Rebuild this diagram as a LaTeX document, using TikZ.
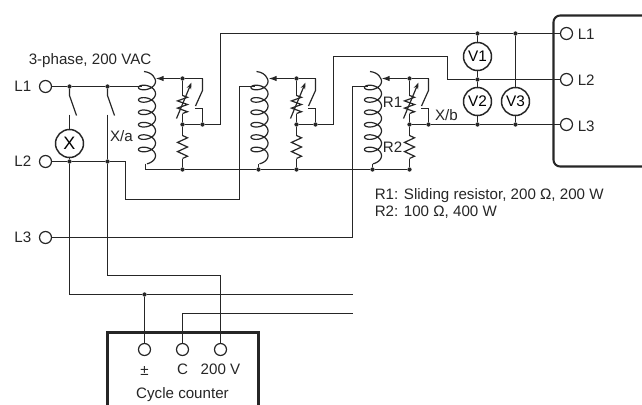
\documentclass[tikz,border=0pt]{standalone}
\usepackage{fontspec}
\setmainfont{Liberation Sans}
\usetikzlibrary{arrows.meta}
\definecolor{ink}{HTML}{262626}
\tikzset{
  x=0.75pt,y=-0.75pt,
  wire/.style={draw=ink,line width=0.9pt,line join=miter},
  heavy/.style={draw=ink,line width=1.55pt},
  term/.style={circle,draw=ink,line width=0.9pt,fill=white,minimum size=9pt,inner sep=0pt},
  meter/.style={circle,draw=ink,line width=1.1pt,fill=white,minimum size=21pt,inner sep=0pt,font=\fontsize{11.5}{12}\selectfont},
  jdot/.style={circle,fill=ink,minimum size=3.2pt,inner sep=0pt},
  lab/.style={inner sep=0pt,text=ink,font=\fontsize{11.35}{13}\selectfont},
}
\newcommand\zig[3]{\pgfmathsetmacro\zu{#3/10}%
  \draw[wire] (#1,#2) -- ++(5,\zu) -- ++(-10,2*\zu) -- ++(10,2*\zu) -- ++(-10,2*\zu) -- ++(10,2*\zu) -- ++(-5,\zu);}
\newcommand\coil[1]{%
  \draw[wire,line width=0.9pt] (#1-3,71) .. controls (#1+2,71.5) and (#1+6,74) .. (#1+7.36,77.3);
  \draw[wire,line width=0.9pt] plot[domain=60:2340,samples=230,smooth] ({#1+8.5*sin(\x)},{77.7+\x/360*12.4-5*cos(\x)});}
% one resistor group: #1 wiper/resistor x, #2 switch x, #3 tag, #4 coil right edge
\newcommand\group[4]{%
  \coordinate (w#3) at (#4,78);
  \node[jdot] (a#3) at (#1,78) {};
  \node[jdot] (n#3) at (#1,124) {};
  \node[jdot] (s#3) at (#2,124) {};
  \node[jdot] (b#3) at (#1,169) {};
  \coordinate (st#3) at (#2,78);
  \coordinate (sa#3) at (#2,90);
  \coordinate (sb#3) at (#2-7,105.5);
  \coordinate (sc#3) at (#2-8,108);
  \coordinate (sd#3) at (#2,108);
  \draw[wire] (s#3) -- (sd#3) -- (sc#3);
  \draw[wire] (st#3) -- (sa#3) -- (sb#3);
  \draw[wire] (st#3) -- (a#3);
  \draw[wire,-{Latex[length=6pt,width=4pt]}] (a#3) -- (w#3);
  \draw[wire] (n#3) -- (s#3);
  \draw[wire] (a#3) -- ++(0,17);
  \draw[wire] (n#3) -- ++(0,-11);
  \zig{#1}{95}{18}
  \draw[wire,-{Stealth[length=5pt,width=3.5pt]}] (#1-6,118) -- (#1+9,82);
  \draw[wire] (n#3) -- ++(0,11);
  \draw[wire] (b#3) -- ++(0,-11);
  \zig{#1}{135}{23}
}
\begin{document}
\begin{tikzpicture}
\useasboundingbox (0,0) rectangle (642,404);
\fill[white] (0,0) rectangle (642,404);
\begin{scope}[shift={(0.5,0.5)}]

% mains terminals
\node[term] (L1) at (45,86) {};
\node[term] (L2) at (45,161) {};
\node[term] (L3) at (45,237) {};
\node[lab,anchor=east] (L1t) at (31,86) {L1};
\node[lab,anchor=east] (L2t) at (31,161) {L2};
\node[lab,anchor=east] (L3t) at (31,237) {L3};
\node[lab,anchor=west] (cap) at (28,60.5) {3-phase, 200 VAC};

% coils
\coil{146.5}
\coil{259}
\coil{372.5}

% resistor groups
\group{182}{202}{A}{155}
\group{296}{315}{B}{268}
\group{409}{428}{C}{381}

% bottom bus
\coordinate (c1b) at (145,163);
\coordinate (c1c) at (145,169);
\node[jdot] (c2b) at (258,169) {};
\node[jdot] (c3b) at (372,169) {};
\draw[wire] (c1b) -- (c1c) -- (bA) -- (c2b) -- (bB) -- (c3b) -- (bC);
\draw[wire] (c2b) -- ++(0,-6);
\draw[wire] (c3b) -- ++(0,-6);

% left junctions and relay
\node[jdot] (j1) at (69,86) {};
\node[jdot] (j2) at (107,86) {};
\node[jdot] (j3) at (69,161) {};
\node[jdot] (j4) at (107,161) {};
\node[meter] (X) at (69,143) {\fontsize{13.5}{14}\selectfont X};
\coordinate (coilin) at (141,86);
\draw[wire] (L1) -- (j1) -- (j2) -- (coilin);
\coordinate (xa) at (69,95);
\coordinate (xb) at (76,115);
\coordinate (xc) at (69,114);
\draw[wire] (j1) -- (xa) -- (xb);
\draw[wire] (xc) -- (X);
\draw[wire] (X) -- (j3);
\coordinate (ya) at (107,95);
\coordinate (yb) at (114,115);
\coordinate (yc) at (107,114);
\draw[wire] (j2) -- (ya) -- (yb);
\node[lab] (Xa) at (121,135.5) {X/a};

% cycle counter
\node[term] (T1) at (144,349) {};
\node[term] (T2) at (182,349) {};
\node[term] (T3) at (220,349) {};
\node[lab] (Tl1) at (144,370) {±};
\node[lab] (Tl2) at (182,369) {C};
\node[lab] (Tl3) at (220,369) {200 V};
\node[lab] (Tl4) at (182,394) {Cycle counter};
\coordinate (bx1) at (107,405);
\coordinate (bx2) at (107,332);
\coordinate (bx3) at (258,332);
\coordinate (bx4) at (258,405);
\draw[heavy] (bx1) -- (bx2) -- (bx3) -- (bx4);

% relay return and counter wiring
\coordinate (e1) at (69,294);
\coordinate (e2) at (352,294);
\node[jdot] (e3) at (144,294) {};
\draw[wire] (j3) -- (e1) -- (e3) -- (e2);
\draw[wire] (e3) -- (T1);
\coordinate (f1) at (352,313);
\coordinate (f2) at (182,313);
\draw[wire] (f1) -- (f2) -- (T2);
\coordinate (g1) at (107,275);
\coordinate (g2) at (220,275);
\draw[wire] (yc) -- (j4) -- (g1) -- (g2) -- (T3);

% L2 and L3 feeds
\coordinate (h1) at (125,161);
\coordinate (h2) at (125,199);
\coordinate (h3) at (239,199);
\coordinate (h4) at (239,86);
\coordinate (h5) at (254,86);
\draw[wire] (L2) -- (j3) -- (j4) -- (h1) -- (h2) -- (h3) -- (h4) -- (h5);
\coordinate (k1) at (352,237);
\coordinate (k2) at (352,86);
\coordinate (k3) at (367,86);
\draw[wire] (L3) -- (k1) -- (k2) -- (k3);

% load box
\draw[heavy,rounded corners=5pt] (643,15) -- (553,15) -- (553,166) -- (643,166);
\node[term] (R1) at (566,33) {};
\node[term] (R2) at (566,79) {};
\node[term] (R3) at (566,124) {};
\node[lab,anchor=west] (R1t) at (577,34) {L1};
\node[lab,anchor=west] (R2t) at (577,80) {L2};
\node[lab,anchor=west] (R3t) at (577,126) {L3};

% meters
\node[jdot] (m1) at (477,33) {};
\node[jdot] (m2) at (477,79) {};
\node[jdot] (m3) at (477,124) {};
\node[jdot] (m4) at (515,33) {};
\node[jdot] (m5) at (515,124) {};
\node[meter] (V1) at (477,56) {V1};
\node[meter] (V2) at (477,101) {V2};
\node[meter] (V3) at (515,101) {V3};
\draw[wire] (m1) -- (V1) -- (m2) -- (V2) -- (m3);
\draw[wire] (m4) -- (V3) -- (m5);

% outputs
\coordinate (p1) at (220,124);
\coordinate (p2) at (220,33);
\draw[wire] (sA) -- (p1) -- (p2) -- (m1) -- (m4) -- (R1);
\coordinate (q1) at (333,124);
\coordinate (q2) at (333,56);
\coordinate (q3) at (447,56);
\coordinate (q4) at (447,79);
\draw[wire] (sB) -- (q1) -- (q2) -- (q3) -- (q4) -- (m2) -- (R2);
\draw[wire] (sC) -- (m3) -- (m5) -- (R3);

% labels
\node[lab] (lr1) at (392,102) {R1};
\node[lab] (lr2) at (392,147) {R2};
\node[lab] (lxb) at (446,115) {X/b};
\node[lab,anchor=west] (n1) at (374,195) {R1: Sliding resistor, 200 Ω, 200 W};
\node[lab,anchor=west] (n2) at (374,211.5) {R2: 100 Ω, 400 W};
\end{scope}
\end{tikzpicture}
\end{document}
